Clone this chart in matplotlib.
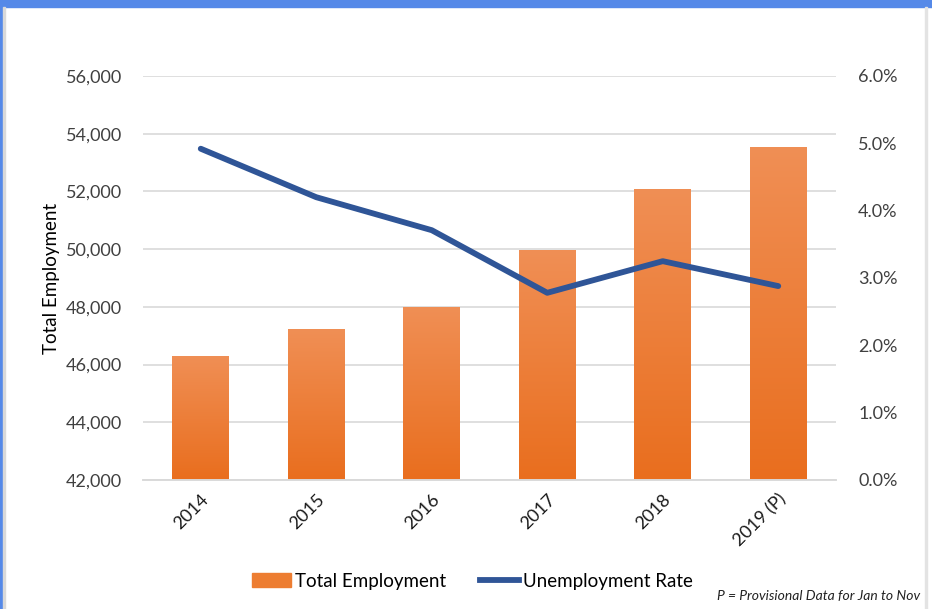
import matplotlib
matplotlib.use("Agg")
import matplotlib.pyplot as plt
import numpy as np
from matplotlib.patches import Rectangle
from matplotlib.lines import Line2D
from matplotlib.colors import LinearSegmentedColormap

plt.rcParams['font.family'] = ['Lato', 'DejaVu Sans']

years = ['2014', '2015', '2016', '2017', '2018', '2019 (P)']
employment = [46300, 47230, 48000, 49970, 52090, 53540]
unemp_rate = [4.92, 4.20, 3.71, 2.78, 3.25, 2.88]

fig = plt.figure(figsize=(9.32, 6.09), dpi=100)

# frame around the picture (screenshot look)
fig.patches.append(Rectangle((0, 1 - 7 / 609), 1, 7 / 609, transform=fig.transFigure,
                             color='#5589E8', zorder=0))
fig.patches.append(Rectangle((0, 0), 3 / 932, 1, transform=fig.transFigure,
                             color='#5589E8', zorder=0))
fig.patches.append(Rectangle((3 / 932, 0), 1.5 / 932, 1 - 7 / 609, transform=fig.transFigure,
                             color='#D9D9D9', zorder=0))
fig.patches.append(Rectangle((925 / 932, 0), 1.5 / 932, 1 - 7 / 609, transform=fig.transFigure,
                             color='#E3E3E3', zorder=0))

ax = fig.add_axes([143 / 932, 1 - 480 / 609, (836 - 143) / 932, (480 - 76) / 609])
ax2 = ax.twinx()

x = np.arange(len(years))
bars = ax.bar(x, employment, width=0.49, color='#ED7D31', zorder=2)

# gradient fill on each bar
cmap = LinearSegmentedColormap.from_list('org', ['#E96E1E', '#F08F55'])
grad = np.linspace(0, 1, 256).reshape(-1, 1)
for b in bars:
    bx, by = b.get_x(), b.get_y()
    w, h = b.get_width(), b.get_height()
    im = ax.imshow(grad, cmap=cmap, origin='lower', aspect='auto',
                   extent=(bx, bx + w, 42000, by + h), zorder=2.5)
    im.set_clip_path(b)

ax.set_xlim(-0.5, len(years) - 0.5)
ax.set_ylim(42000, 56000)
ax.set_yticks(np.arange(42000, 56001, 2000))
ax.set_yticklabels(['{:,}'.format(v) for v in range(42000, 56001, 2000)])
ax.grid(axis='y', color='#D9D9D9', linewidth=1.2, zorder=0)
ax.set_axisbelow(True)
ax.set_xticks(x)
ax.set_xticklabels(years, rotation=45, ha='right', rotation_mode='anchor')
ax.tick_params(axis='y', length=0, labelsize=13, colors='#404040', pad=15)
ax.tick_params(axis='x', length=0, labelsize=13, colors='#1a1a1a', pad=8)
ax.set_ylabel('Total Employment', fontsize=13.5, color='#000000', labelpad=4)

ax2.plot(x, unemp_rate, color='#2F5597', linewidth=4.2, solid_capstyle='round', zorder=3)
ax2.set_ylim(0, 6)
ax2.set_yticks(np.arange(0, 6.01, 1))
ax2.set_yticklabels(['{:.1f}%'.format(v) for v in np.arange(0, 6.01, 1)])
ax2.tick_params(axis='y', length=0, labelsize=13, colors='#404040', pad=16)

for a in (ax, ax2):
    for s in ['top', 'left', 'right']:
        a.spines[s].set_visible(False)
    a.spines['bottom'].set_color('#D9D9D9')
    a.spines['bottom'].set_linewidth(1.2)

handles = [Rectangle((0, 0), 1, 1, color='#ED7D31'),
           Line2D([0], [0], color='#2F5597', linewidth=4.2)]
fig.legend(handles, ['Total Employment', 'Unemployment Rate'], loc='center',
           bbox_to_anchor=(472 / 932, 1 - 581 / 609), ncol=2, frameon=False,
           fontsize=13.5, handlelength=2.1, handletextpad=0.2, columnspacing=1.8)

fig.text(920 / 932, 1 - 596 / 609, 'P = Provisional Data for Jan to Nov',
         fontsize=10, style='italic', ha='right', va='center', color='#222222')

fig.savefig('out.png', dpi=100)
